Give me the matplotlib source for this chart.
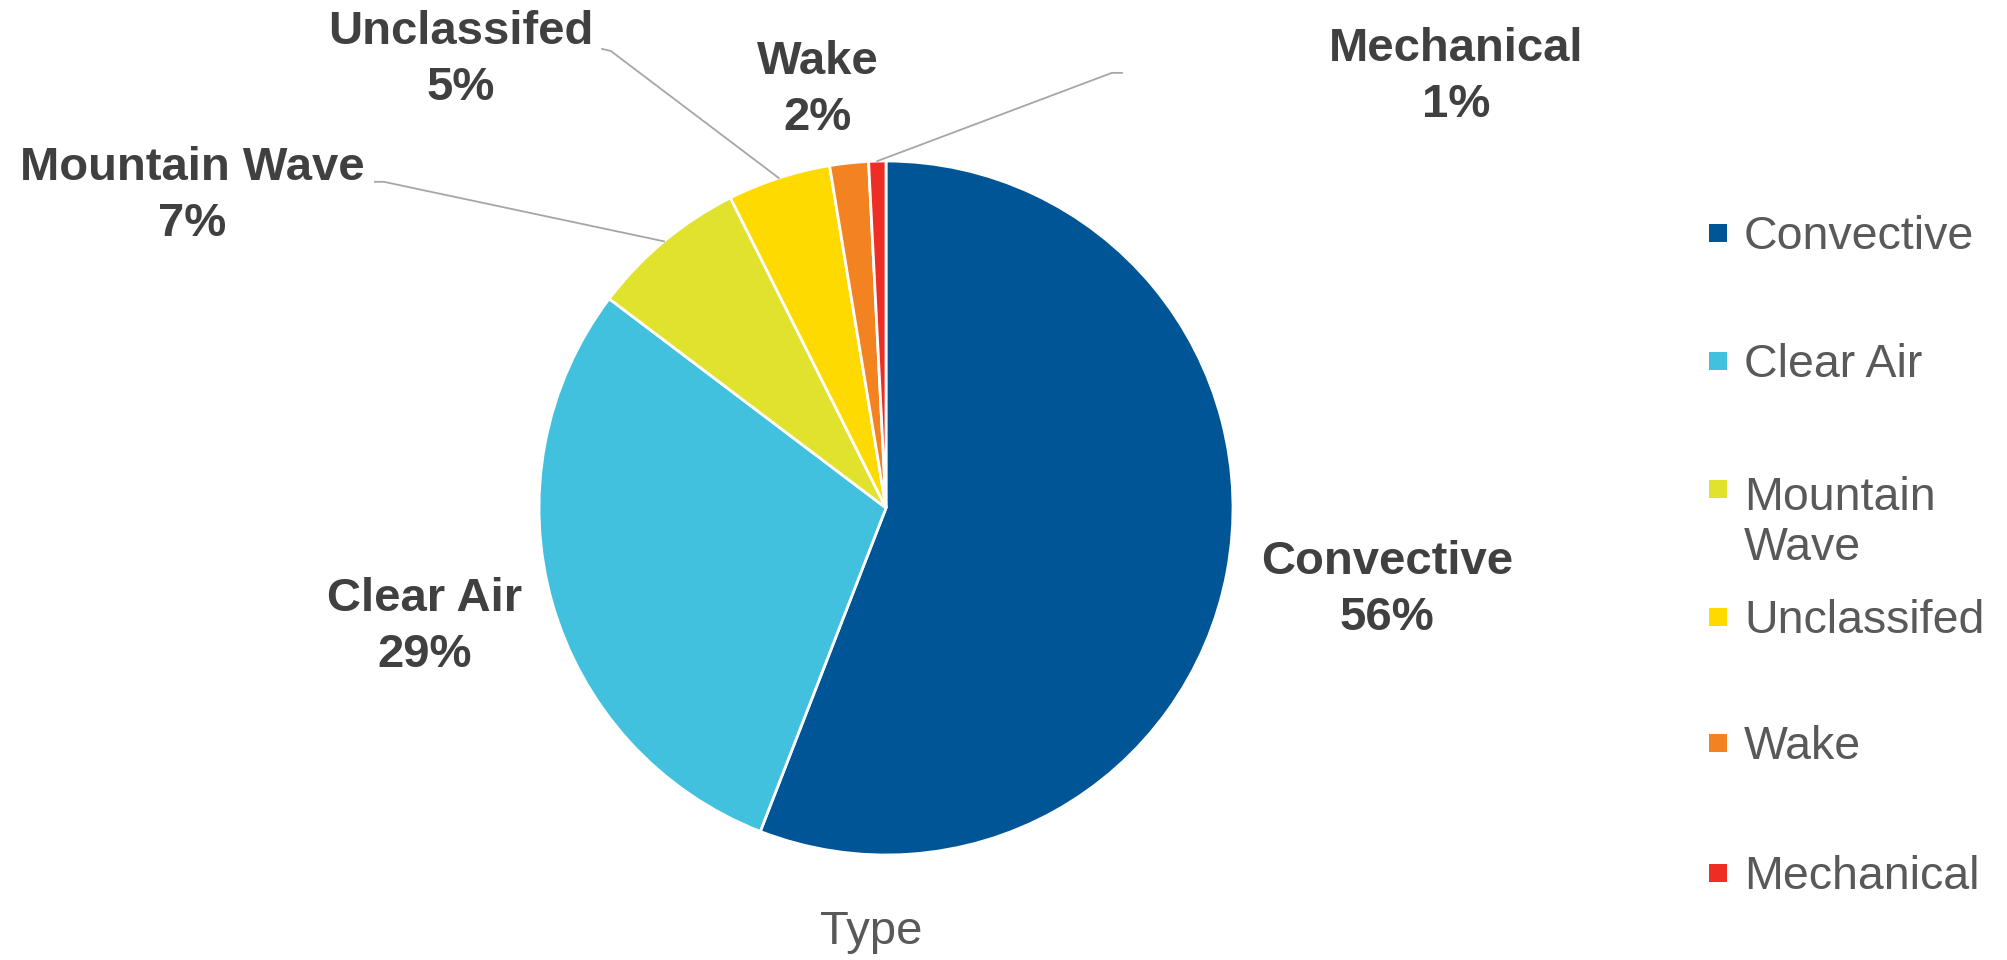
import numpy as np
import matplotlib
matplotlib.use('Agg')
import matplotlib.pyplot as plt
from matplotlib.patches import Rectangle

# Turbulence encounters by type (share of total, %)
categories = ['Convective', 'Clear Air', 'Mountain Wave', 'Unclassifed', 'Wake', 'Mechanical']
legend_labels = ['Convective', 'Clear Air', 'Mountain\nWave', 'Unclassifed', 'Wake', 'Mechanical']
shares = [55.9, 29.4, 7.3, 4.8, 1.8, 0.8]
colors = ['#005596', '#41C1DD', '#E1E22E', '#FFDA00', '#F38321', '#EE2D24']

plt.rcParams['font.family'] = ['Liberation Sans', 'DejaVu Sans']

W, H = 2008, 960
fig = plt.figure(figsize=(W / 100, H / 100), dpi=100)

# pie placement in pixels
cx, cy, r = 886, 508, 347
ax = fig.add_axes([(cx - r) / W, (H - cy - r) / H, 2 * r / W, 2 * r / H])
wedges, _ = ax.pie(shares, colors=colors, startangle=90, counterclock=False,
                   radius=1, wedgeprops=dict(edgecolor='white', linewidth=2))
ax.set_xlim(-1, 1)
ax.set_ylim(-1, 1)
ax.set_aspect('equal')
ax.axis('off')

# data labels: (text position, leader elbow or None)
label_pos = {
    'Convective': ((1.444, -0.236), None),
    'Clear Air': ((-1.329, -0.343), None),
    'Mountain Wave': ((-2.0, 0.899), [(-1.473, 0.940), (-1.447, 0.940)]),
    'Unclassifed': ((-1.225, 1.291), [(-0.818, 1.323), (-0.793, 1.317)]),
    'Wake': ((-0.196, 1.205), None),
    'Mechanical': ((1.643, 1.242), [(0.680, 1.254), (0.651, 1.254)]),
}

for w, name, val in zip(wedges, categories, shares):
    (tx, ty), elbow = label_pos[name]
    ax.text(tx, ty, f'{name}\n{round(val)}%', ha='center', va='center',
            fontsize=34, fontweight='bold', color='#404040', linespacing=1.35,
            clip_on=False)
    if elbow:
        mid = np.deg2rad((w.theta1 + w.theta2) / 2)
        xs = [p[0] for p in elbow] + [np.cos(mid)]
        ys = [p[1] for p in elbow] + [np.sin(mid)]
        ax.plot(xs, ys, color='#A6A6A6', linewidth=1.3, clip_on=False)

# legend drawn by hand to mimic the spacing of the original
leg_rows = [233, 361, 489, 617, 743, 873]
line_gap = 55
for lab, col, y in zip(legend_labels, colors, leg_rows):
    s = 18
    fig.add_artist(Rectangle(((1718 - s / 2) / W, (H - y - s / 2) / H), s / W, s / H,
                             facecolor=col, edgecolor='none', transform=fig.transFigure))
    n_extra = lab.count('\n')
    fig.text(1744 / W, (H - y - 16 - n_extra * line_gap) / H, lab, ha='left',
             va='baseline', fontsize=33.5, color='#595959', linespacing=1.18)

fig.text(871 / W, (H - 932) / H, 'Type', ha='center', va='center',
         fontsize=34, color='#595959')

plt.savefig('out.png', dpi=100)
plt.close()
